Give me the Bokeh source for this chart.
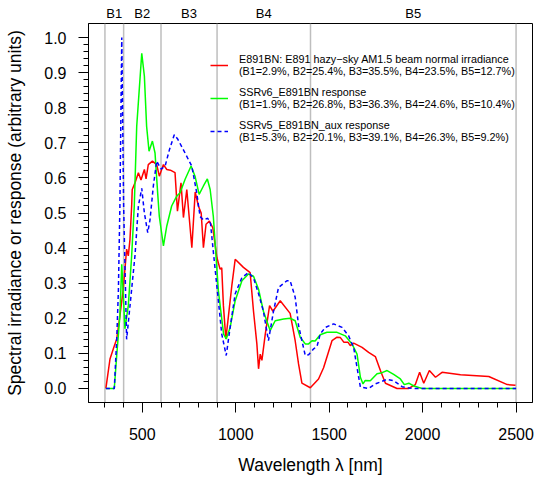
from bokeh.plotting import figure
from bokeh.models import (Range1d, FixedTicker, LinearAxis, Span, Legend,
                          LegendItem, NumeralTickFormatter)
from bokeh.embed import file_html
from bokeh.resources import INLINE

# ---- data ----
red_wl = [305, 327, 345, 363, 380, 398, 416, 425, 434, 443, 446, 461, 479, 493,
          511, 520, 532, 554, 577, 591, 613, 631, 650, 675, 688, 707, 720, 738,
          765, 783, 800, 815, 827, 841, 859, 877, 899, 916, 925, 934, 947, 961,
          979, 997, 1041, 1077, 1095, 1113, 1122, 1131, 1140, 1158, 1181, 1199,
          1238, 1291, 1318, 1336, 1354, 1399, 1443, 1470, 1515, 1542, 1560, 1578,
          1600, 1613, 1631, 1676, 1711, 1747, 1774, 1801, 1863, 1926, 1961, 1984,
          2006, 2036, 2069, 2104, 2203, 2354, 2453, 2497]
red_val = [0.0, 0.084, 0.113, 0.141, 0.207, 0.283, 0.397, 0.378, 0.425, 0.52,
           0.567, 0.586, 0.615, 0.594, 0.624, 0.597, 0.638, 0.648, 0.638, 0.605,
           0.638, 0.624, 0.622, 0.615, 0.505, 0.586, 0.487, 0.567, 0.401, 0.56,
           0.52, 0.50, 0.401, 0.468, 0.477, 0.458, 0.373, 0.34, 0.344, 0.236,
           0.141, 0.207, 0.293, 0.368, 0.345, 0.33, 0.22, 0.127, 0.056, 0.098,
           0.08, 0.155, 0.236, 0.22, 0.25, 0.214, 0.136, 0.07, 0.015, 0.002,
           0.027, 0.059, 0.136, 0.146, 0.145, 0.132, 0.132, 0.122, 0.129, 0.117,
           0.103, 0.091, 0.051, 0.015, 0.0, 0.0, 0.011, 0.046, 0.015, 0.051,
           0.032, 0.046, 0.039, 0.034, 0.011, 0.009]

green_wl = [305, 350, 363, 380, 390, 407, 425, 443, 457, 470, 497, 511, 523, 536,
            554, 568, 582, 591, 613, 631, 657, 684, 702, 729, 761, 782, 804, 827,
            848, 863, 880, 907, 935, 949, 970, 997, 1033, 1068, 1095, 1122, 1148,
            1184, 1211, 1256, 1291, 1318, 1345, 1372, 1390, 1408, 1425, 1452, 1488,
            1542, 1586, 1622, 1649, 1667, 1681, 1693, 1720, 1756, 1783, 1810, 1845,
            1881, 1902, 1926, 1953, 1997, 2500]
green_val = [0.0, 0.0, 0.094, 0.207, 0.354, 0.17, 0.236, 0.378, 0.52, 0.747,
             0.955, 0.89, 0.747, 0.676, 0.705, 0.671, 0.558, 0.49, 0.406, 0.463,
             0.52, 0.548, 0.558, 0.596, 0.634, 0.605, 0.553, 0.577, 0.597, 0.567,
             0.49, 0.278, 0.155, 0.141, 0.174, 0.25, 0.307, 0.326, 0.32, 0.283,
             0.22, 0.165, 0.193, 0.198, 0.2, 0.193, 0.146, 0.127, 0.127, 0.136,
             0.135, 0.153, 0.16, 0.16, 0.15, 0.127, 0.098, 0.032, 0.013, 0.023,
             0.022, 0.042, 0.045, 0.051, 0.04, 0.027, 0.011, 0.015, 0.007, 0.0, 0.0]

blue_wl = [305, 350, 363, 372, 380, 390, 400, 416, 434, 461, 479, 497, 511, 529,
           541, 559, 577, 600, 622, 645, 671, 690, 720, 765, 791, 809, 827, 850,
           865, 880, 907, 925, 949, 970, 997, 1033, 1068, 1095, 1122, 1148, 1175,
           1202, 1229, 1274, 1291, 1318, 1336, 1354, 1372, 1390, 1417, 1435, 1452,
           1479, 1524, 1569, 1604, 1631, 1652, 1667, 1711, 1747, 1810, 1845, 1890,
           1944, 2500]
blue_val = [0.0, 0.0, 0.14, 0.28, 0.52, 1.0, 0.52, 0.14, 0.235, 0.38, 0.52, 0.57,
            0.50, 0.444, 0.48, 0.577, 0.648, 0.625, 0.634, 0.68, 0.723, 0.71, 0.68,
            0.633, 0.558, 0.49, 0.48, 0.485, 0.47, 0.39, 0.25, 0.155, 0.094, 0.174,
            0.27, 0.316, 0.33, 0.315, 0.27, 0.22, 0.136, 0.22, 0.288, 0.307, 0.307,
            0.26, 0.18, 0.136, 0.094, 0.096, 0.113, 0.12, 0.155, 0.174, 0.184, 0.174,
            0.15, 0.117, 0.05, 0.004, 0.0, 0.013, 0.026, 0.022, 0.005, 0.0, 0.0]

band_edges = [300, 400, 600, 900, 1400, 2500]
band_names = ["B1", "B2", "B3", "B4", "B5"]
band_centers = [350, 500, 750, 1150, 1950]

x_major = [500, 1000, 1500, 2000, 2500]
x_minor = [300, 400, 500, 600, 700, 800, 900, 1000, 1100, 1200, 1300, 1400, 1500,
           1600, 1700, 1800, 1900, 2000, 2100, 2200, 2300, 2400, 2500]
y_major = [0.0, 0.1, 0.2, 0.3, 0.4, 0.5, 0.6, 0.7, 0.8, 0.9, 1.0]
y_minor = [i / 50 for i in range(51)]

labels = [
    "E891BN: E891 hazy\u2212sky AM1.5 beam normal irradiance\n(B1=2.9%, B2=25.4%, B3=35.5%, B4=23.5%, B5=12.7%)",
    "SSRv6_E891BN response\n(B1=1.9%, B2=26.8%, B3=36.3%, B4=24.6%, B5=10.4%)",
    "SSRv5_E891BN_aux response\n(B1=5.3%, B2=20.1%, B3=39.1%, B4=26.3%, B5=9.2%)",
]

FONT = "Liberation Sans"

p = figure(width=537, height=491, output_backend="svg", toolbar_location=None,
           x_range=Range1d(212, 2588), y_range=Range1d(-0.04, 1.04),
           min_border_left=88, min_border_right=5, min_border_top=23,
           min_border_bottom=89)
p.xgrid.grid_line_color = None
p.ygrid.grid_line_color = None
p.outline_line_color = "black"
p.outline_line_width = 1
p.outline_line_alpha = 1
p.background_fill_color = "white"
p.border_fill_color = "white"

for e in band_edges:
    p.add_layout(Span(location=e, dimension="height", line_color="#BEBEBE",
                      line_width=1.5, level="underlay"))

r_red = p.line(red_wl, red_val, line_color="#FF0000", line_width=1.5)
r_green = p.line(green_wl, green_val, line_color="#00FF00", line_width=1.5)
r_blue = p.line(blue_wl, blue_val, line_color="#0000FF", line_width=1.5,
                line_dash="4 3")

# axes
for ax in (p.xaxis[0], p.yaxis[0]):
    ax.major_tick_in = 0
    ax.minor_tick_in = 0
    ax.major_tick_out = 10
    ax.minor_tick_out = 5
    ax.axis_line_color = "black"
    ax.major_tick_line_color = "black"
    ax.minor_tick_line_color = "black"
    ax.major_label_text_font = FONT
    ax.major_label_text_font_size = "16px"
    ax.major_label_text_color = "black"
    ax.axis_label_text_font = FONT
    ax.axis_label_text_font_size = "17.5px"
    ax.axis_label_text_font_style = "normal"
    ax.axis_label_text_color = "black"

p.xaxis.ticker = FixedTicker(ticks=x_major, minor_ticks=x_minor)
p.yaxis.ticker = FixedTicker(ticks=y_major, minor_ticks=y_minor)
p.yaxis.formatter = NumeralTickFormatter(format="0.0")
p.xaxis.axis_label = "Wavelength \u03bb [nm]"
p.yaxis.axis_label = "Spectral irradiance or response (arbitrary units)"
p.xaxis.major_label_standoff = 15
p.xaxis.axis_label_standoff = 12
p.yaxis.major_label_standoff = 12
p.yaxis.axis_label_standoff = 16

top = LinearAxis(ticker=FixedTicker(ticks=band_centers, minor_ticks=[]),
                 major_label_overrides={c: n for c, n in zip(band_centers, band_names)},
                 axis_line_color=None, major_tick_line_color=None,
                 minor_tick_line_color=None, major_tick_out=0, major_tick_in=0,
                 major_label_standoff=3, major_label_text_font=FONT,
                 major_label_text_font_size="13px", major_label_text_color="black")
p.add_layout(top, "above")

legend = Legend(items=[LegendItem(label=labels[0], renderers=[r_red]),
                       LegendItem(label=labels[1], renderers=[r_green]),
                       LegendItem(label=labels[2], renderers=[r_blue])],
                location=(122, 259), border_line_color=None,
                background_fill_alpha=0, label_text_font=FONT,
                label_text_font_size="10.8px", label_text_color="black",
                label_text_line_height=1.25,
                glyph_width=18, label_standoff=11, spacing=9, padding=0,
                margin=0)
p.add_layout(legend)

open("out.html", "w").write(file_html(p, INLINE))
